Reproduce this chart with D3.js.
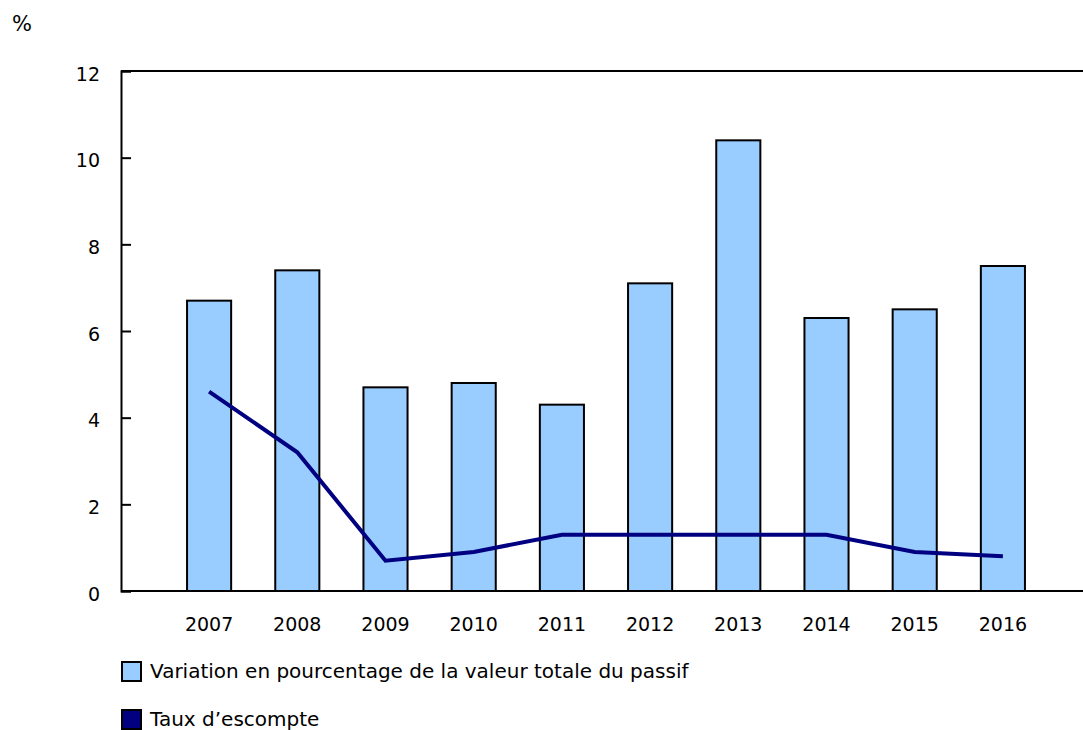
<!DOCTYPE html>
<html>
<head>
<meta charset="utf-8">
<script src="https://cdn.jsdelivr.net/npm/d3@7"></script>
<style>
  body { margin: 0; background: #fff; }
  svg { display: block; font-family: "DejaVu Sans", Verdana, sans-serif; }
</style>
</head>
<body>
<svg id="chart" width="1083" height="730"></svg>
<script>
'use strict';

// Data
var years = ['2007', '2008', '2009', '2010', '2011', '2012', '2013', '2014', '2015', '2016'];
var liabilityChange = [6.7, 7.4, 4.7, 4.8, 4.3, 7.1, 10.4, 6.3, 6.5, 7.5];
var discountRate = [4.6, 3.2, 0.7, 0.9, 1.3, 1.3, 1.3, 1.3, 0.9, 0.8];
var yTicks = [0, 2, 4, 6, 8, 10, 12];
var legendLabels = ['Variation en pourcentage de la valeur totale du passif', 'Taux d\u2019escompte'];

var colors = { bar: '#99ccff', line: '#000080' };
var tickFont = 19;
var legendFont = 20;

var svg = d3.select('#chart');

var plot = { left: 121, right: 1083, top: 71, bottom: 591 };

var xScale = d3.scaleBand()
  .domain(years)
  .range([165, 1047])
  .paddingInner(0.5)
  .paddingOuter(0.25);

var yScale = d3.scaleLinear()
  .domain([0, 12])
  .range([plot.bottom, plot.top]);

// unit label
svg.append('text')
  .attr('x', 12)
  .attr('y', 31)
  .style('font-size', '21px')
  .text('%');

// bars
svg.selectAll('rect.bar')
  .data(years)
  .enter().append('rect')
  .attr('class', 'bar')
  .attr('x', function(d) { return xScale(d); })
  .attr('y', function(d, i) { return yScale(liabilityChange[i]); })
  .attr('width', xScale.bandwidth())
  .attr('height', function(d, i) { return plot.bottom - yScale(liabilityChange[i]); })
  .attr('fill', colors.bar)
  .attr('stroke', '#000')
  .attr('stroke-width', 2);

// frame: top line, bottom axis, left axis
svg.append('line')
  .attr('x1', plot.left).attr('x2', plot.right)
  .attr('y1', plot.top).attr('y2', plot.top)
  .attr('stroke', '#000').attr('stroke-width', 2);

svg.append('line')
  .attr('x1', plot.left).attr('x2', plot.right)
  .attr('y1', plot.bottom).attr('y2', plot.bottom)
  .attr('stroke', '#000').attr('stroke-width', 2);

var yAxis = svg.append('g')
  .attr('transform', 'translate(' + plot.left + ',0)')
  .call(d3.axisRight(yScale).tickValues(yTicks).tickSize(10).tickFormat(''));
yAxis.select('.domain').attr('stroke', '#000').attr('stroke-width', 2);
yAxis.selectAll('.tick line').attr('stroke', '#000').attr('stroke-width', 2);

svg.selectAll('text.ytick')
  .data(yTicks)
  .enter().append('text')
  .attr('class', 'ytick')
  .attr('x', 100)
  .attr('y', function(d) { return yScale(d) + 3; })
  .attr('dy', '0.35em')
  .attr('text-anchor', 'end')
  .style('font-size', tickFont + 'px')
  .text(function(d) { return d; });

svg.selectAll('text.xtick')
  .data(years)
  .enter().append('text')
  .attr('class', 'xtick')
  .attr('x', function(d) { return xScale(d) + xScale.bandwidth() / 2; })
  .attr('y', 631)
  .attr('text-anchor', 'middle')
  .style('font-size', tickFont + 'px')
  .text(function(d) { return d; });

// discount rate line
var line = d3.line()
  .x(function(d, i) { return xScale(years[i]) + xScale.bandwidth() / 2; })
  .y(function(d) { return yScale(d); });

svg.append('path')
  .datum(discountRate)
  .attr('d', line)
  .attr('fill', 'none')
  .attr('stroke', colors.line)
  .attr('stroke-width', 4);

// legend
var legend = svg.selectAll('g.legend')
  .data(legendLabels)
  .enter().append('g')
  .attr('class', 'legend')
  .attr('transform', function(d, i) { return 'translate(121,' + (661 + i * 48) + ')'; });

legend.append('rect')
  .attr('x', 1).attr('y', 1)
  .attr('width', 19).attr('height', 19)
  .attr('fill', function(d, i) { return i === 0 ? colors.bar : colors.line; })
  .attr('stroke', '#000')
  .attr('stroke-width', 2);

legend.append('text')
  .attr('x', 29)
  .attr('y', 17)
  .style('font-size', legendFont + 'px')
  .text(function(d) { return d; });
</script>
</body>
</html>
